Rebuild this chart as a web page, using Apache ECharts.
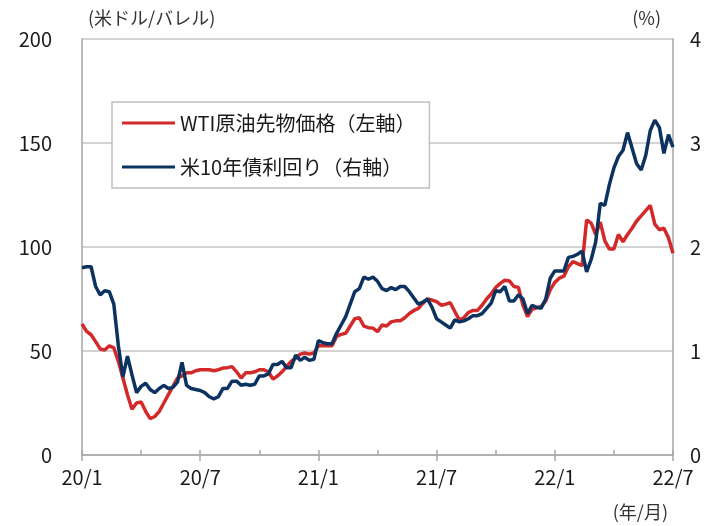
<!DOCTYPE html>
<html>
<head>
<meta charset="utf-8">
<script src="https://cdn.jsdelivr.net/npm/echarts@6/dist/echarts.min.js"></script>
<style>
  html, body { margin: 0; padding: 0; background: #fff; }
  #chart { width: 718px; height: 526px; }
</style>
</head>
<body>
<div id="chart"></div>
<script>
// weekly data, 2020/1 .. 2022/7 (131 points)
const wti = [
  63, 59.4, 57.8, 54.5, 51, 50.5, 52.5, 51.5, 45, 37,
  29, 22, 25, 25.5, 21, 17.5, 18.5, 21, 25, 29,
  33, 37, 38, 39.5, 39.5, 40.5, 41, 41, 41, 40.5,
  41, 41.8, 42, 42.5, 40, 37, 39.5, 39.5, 40, 41,
  41, 40, 36.5, 38, 40, 42.5, 45, 46.5, 48.5, 49,
  48.5, 49, 52.5, 52.5, 52.5, 52.5, 57, 58, 58.5, 62,
  65.5, 66, 62, 61.2, 61, 59.3, 62.5, 62, 64, 64.5,
  64.5, 66, 68, 69.5, 70.5, 73, 75, 74.5, 73.7, 72,
  72.5, 73.2, 69, 65, 66, 68.5, 69.5, 69.5, 72, 75,
  77.5, 80.5, 82.5, 84, 83.7, 81, 80.6, 72, 66.5, 70,
  70.7, 71.5, 74, 79.5, 83, 85, 86, 90.5, 93, 92,
  91, 113, 111.5, 106, 112, 103, 99, 99, 106, 102.5,
  106, 109, 112.5, 115, 117.5, 120, 111, 108.3, 109, 104.5,
  97
]
const ust10y = [
  1.80, 1.81, 1.81, 1.62, 1.54, 1.58, 1.57, 1.45, 1.05, 0.75,
  0.95, 0.77, 0.60, 0.66, 0.69, 0.63, 0.60, 0.64, 0.67, 0.64,
  0.65, 0.70, 0.89, 0.67, 0.64, 0.63, 0.62, 0.60, 0.56, 0.54,
  0.56, 0.64, 0.64, 0.71, 0.71, 0.67, 0.68, 0.67, 0.68, 0.76,
  0.76, 0.78, 0.87, 0.87, 0.90, 0.84, 0.84, 0.96, 0.91, 0.94,
  0.91, 0.92, 1.10, 1.08, 1.07, 1.07, 1.17, 1.25, 1.33, 1.45,
  1.57, 1.60, 1.71, 1.69, 1.71, 1.67, 1.60, 1.58, 1.61, 1.59,
  1.62, 1.62, 1.57, 1.51, 1.45, 1.47, 1.50, 1.42, 1.31, 1.28,
  1.25, 1.22, 1.30, 1.28, 1.29, 1.31, 1.34, 1.34, 1.36, 1.41,
  1.46, 1.58, 1.57, 1.62, 1.48, 1.48, 1.54, 1.50, 1.36, 1.44,
  1.42, 1.41, 1.50, 1.70, 1.77, 1.77, 1.77, 1.90, 1.91, 1.93,
  1.96, 1.76, 1.88, 2.05, 2.42, 2.40, 2.60, 2.76, 2.87, 2.93,
  3.10, 2.95, 2.80, 2.74, 2.88, 3.12, 3.22, 3.15, 2.90, 3.08,
  2.96
]
const tickLabels = ['20/1', '20/7', '21/1', '21/7', '22/1', '22/7']
const weeks = wti.map((_, i) => i)

const FONT = '"Noto Sans CJK JP", "Noto Sans", sans-serif'
const GRAY = '#a6a6a6'

const chart = echarts.init(document.getElementById('chart'))
chart.setOption({
  animation: false,
  textStyle: { fontFamily: FONT },
  grid: { left: 82, right: 45, top: 39, bottom: 71 },
  legend: {
    orient: 'vertical',
    left: 112,
    top: 102,
    padding: [10, 14, 10, 10],
    itemGap: 22,
    itemWidth: 53,
    itemHeight: 3,
    icon: 'rect',
    borderColor: '#bfbfbf',
    borderWidth: 1.5,
    backgroundColor: '#fff',
    textStyle: { fontSize: 20, color: '#1a1a1a', fontFamily: FONT, lineHeight: 22 },
    data: ['WTI原油先物価格（左軸）', '米10年債利回り（右軸）']
  },
  xAxis: [
    {
      type: 'category',
      data: weeks,
      boundaryGap: false,
      axisLine: { lineStyle: { color: GRAY, width: 1.5 } },
      axisTick: { inside: true, length: 5, interval: 12, lineStyle: { color: GRAY, width: 1.5 } },
      axisLabel: {
        interval: 25,
        margin: 12,
        fontSize: 20,
        color: '#1a1a1a',
        formatter: (v, idx) => tickLabels[idx / 26] || ''
      },
      splitLine: { show: false }
    },
    {
      type: 'category',
      data: weeks,
      boundaryGap: false,
      position: 'bottom',
      axisLine: { show: false },
      axisTick: { inside: false, length: 6, interval: 25, lineStyle: { color: GRAY, width: 1.5 } },
      axisLabel: { show: false },
      splitLine: { show: false }
    }
  ],
  yAxis: [
    {
      type: 'value',
      min: 0,
      max: 200,
      interval: 50,
      position: 'left',
      name: '(米ドル/バレル)',
      nameLocation: 'end',
      nameGap: 12,
      nameTextStyle: { fontSize: 18, color: '#333', align: 'left', padding: [0, 0, 0, 6] },
      axisLine: { show: true, lineStyle: { color: GRAY, width: 1.5 } },
      axisTick: { show: false },
      axisLabel: { fontSize: 20, color: '#1a1a1a', margin: 30 },
      splitLine: { lineStyle: { color: '#c4c4c4', width: 1.5 } }
    },
    {
      type: 'value',
      min: 0,
      max: 4,
      interval: 1,
      position: 'right',
      name: '(%)',
      nameLocation: 'end',
      nameGap: 12,
      nameTextStyle: { fontSize: 18, color: '#333', align: 'right', padding: [0, 12, 0, 0] },
      axisLine: { show: true, lineStyle: { color: GRAY, width: 1.5 } },
      axisTick: { show: false },
      axisLabel: { fontSize: 20, color: '#1a1a1a', margin: 17 },
      splitLine: { show: false }
    }
  ],
  graphic: [
    {
      type: 'text',
      right: 50,
      top: 503,
      style: { text: '(年/月)', font: '18px ' + FONT, fill: '#333' }
    }
  ],
  series: [
    {
      name: 'WTI原油先物価格（左軸）',
      type: 'line',
      data: wti,
      yAxisIndex: 0,
      showSymbol: false,
      lineStyle: { color: '#d22a2a', width: 3.5 },
      itemStyle: { color: '#d22a2a' }
    },
    {
      name: '米10年債利回り（右軸）',
      type: 'line',
      data: ust10y,
      yAxisIndex: 1,
      showSymbol: false,
      lineStyle: { color: '#0c3360', width: 3.5 },
      itemStyle: { color: '#0c3360' }
    }
  ]
})
</script>
</body>
</html>
